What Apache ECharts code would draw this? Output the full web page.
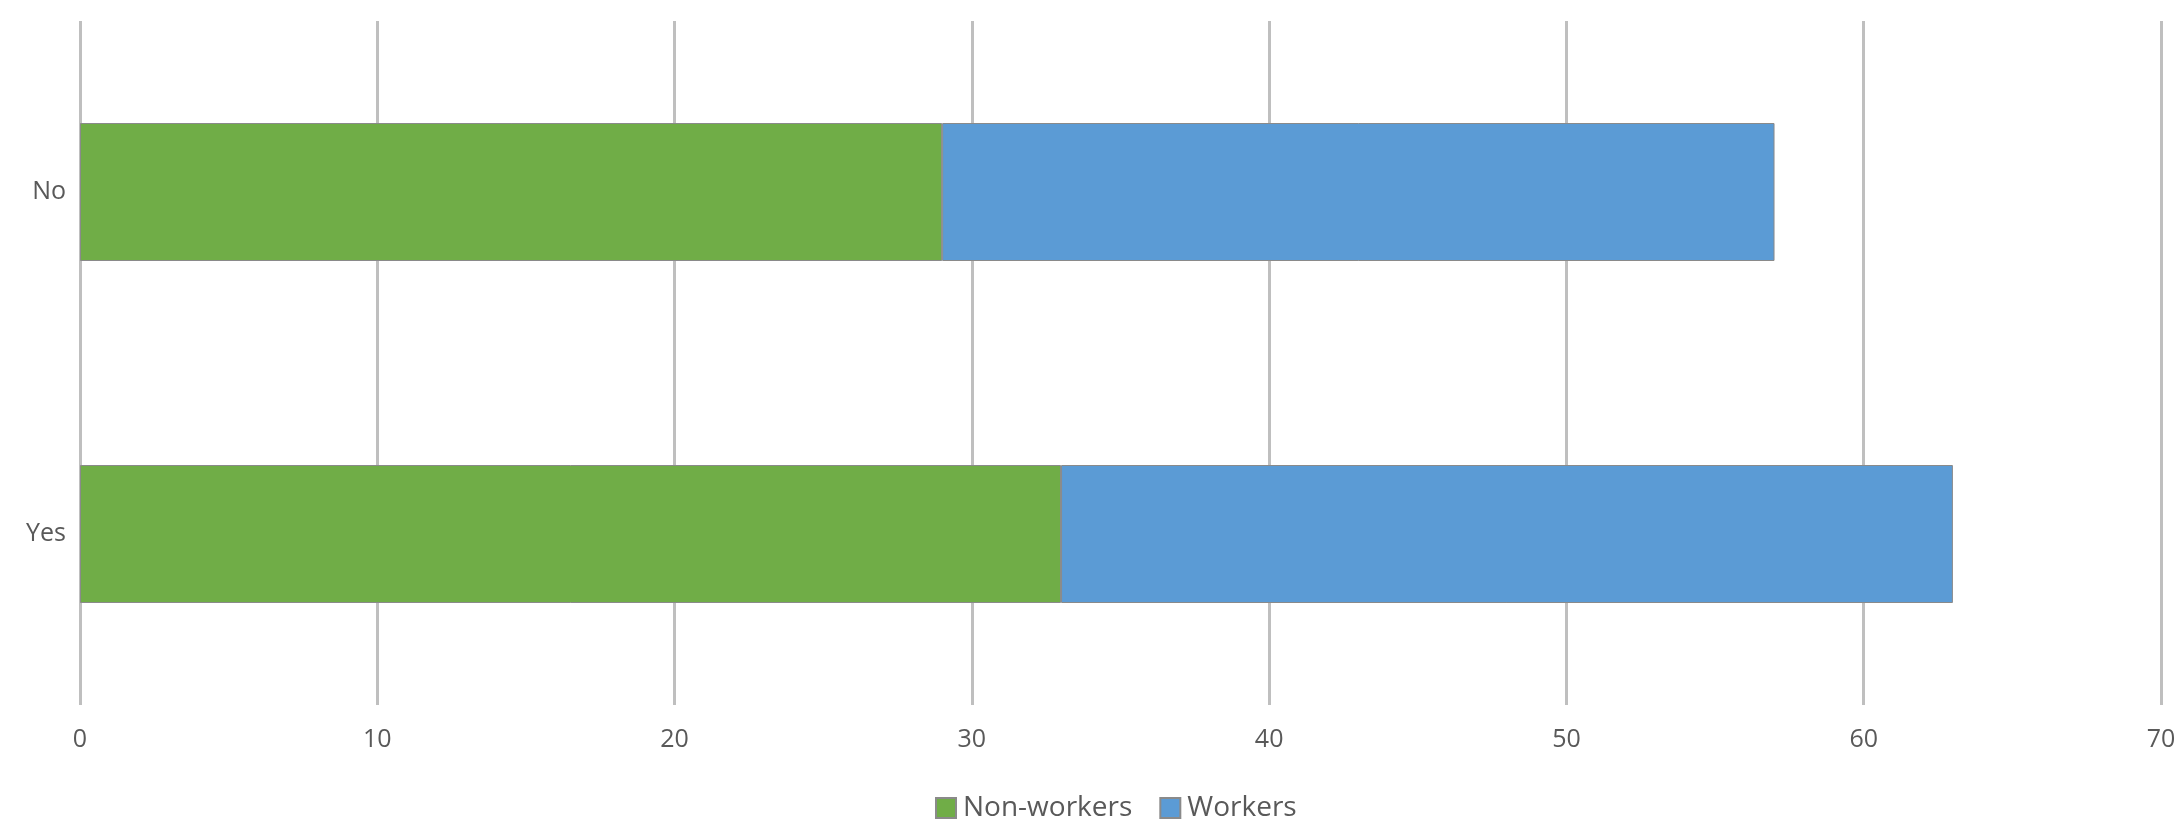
<!DOCTYPE html>
<html>
<head>
<meta charset="utf-8">
<script src="https://cdn.jsdelivr.net/npm/echarts@6/dist/echarts.min.js"></script>
<style>html,body{margin:0;padding:0;background:#fff;}#c{width:2183px;height:824px;}</style>
</head>
<body>
<div id="c"></div>
<script>
const categories = ['Yes', 'No'];
const seriesNames = ['Non-workers', 'Workers'];
const nonWorkers = [33, 29];
const workers = [30, 28];
const xTicks = { min: 0, max: 70, interval: 10 };

const chart = echarts.init(document.getElementById('c'));
const font = '"Open Sans", "Noto Sans", sans-serif';
chart.setOption({
  animation: false,
  grid: { left: 80, right: 22, top: 21, bottom: 119, containLabel: false },
  legend: {
    top: 789,
    left: 930,
    itemWidth: 20, itemHeight: 20, itemGap: 27,
    icon: 'rect',
    textStyle: { fontFamily: font, fontSize: 28, color: '#595959', padding: [0, 0, 0, 2] },
    data: seriesNames
  },
  xAxis: {
    type: 'value', min: xTicks.min, max: xTicks.max, interval: xTicks.interval,
    axisLine: { show: false }, axisTick: { show: false },
    splitLine: { show: true, lineStyle: { color: '#bfbfbf', width: 3 } },
    axisLabel: { fontFamily: font, fontSize: 25, color: '#595959', margin: 22 }
  },
  yAxis: {
    type: 'category', data: categories,
    axisLine: { show: false }, axisTick: { show: false },
    axisLabel: { fontFamily: font, fontSize: 25, color: '#595959', margin: 14 }
  },
  series: [
    { name: seriesNames[0], type: 'bar', stack: 's', data: nonWorkers, barWidth: 138,
      itemStyle: { color: '#70AD47', borderColor: '#8a8a8a', borderWidth: 1 } },
    { name: seriesNames[1], type: 'bar', stack: 's', data: workers, barWidth: 138,
      itemStyle: { color: '#5B9BD5', borderColor: '#8a8a8a', borderWidth: 1 } }
  ]
});
</script>
</body>
</html>
